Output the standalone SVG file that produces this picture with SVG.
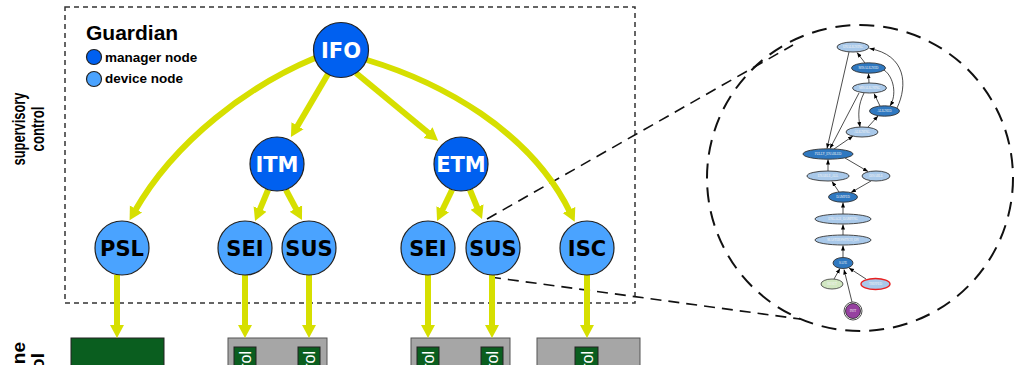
<svg xmlns="http://www.w3.org/2000/svg" width="1016" height="365" viewBox="0 0 1016 365">
<defs>
<marker id="ya" markerUnits="userSpaceOnUse" markerWidth="16" markerHeight="16" refX="3" refY="8" orient="auto" viewBox="0 0 16 16">
<path d="M0,1 L13,8 L0,15 z" fill="#d6df00"/>
</marker>
<marker id="sa" markerUnits="userSpaceOnUse" markerWidth="6" markerHeight="6" refX="5" refY="3" orient="auto" viewBox="0 0 6 6">
<path d="M0,1 L5,3 L0,5 z" fill="#000"/>
</marker>
<style>
.ya{fill:none;stroke:#d6df00;stroke-width:6;marker-end:url(#ya)}
.mgr{fill:#0060f0;stroke:#222;stroke-width:1.2}
.dev{fill:#4aa3ff;stroke:#222;stroke-width:1.2}
.nt{font-family:"DejaVu Sans",sans-serif;font-weight:bold;font-size:21px;text-anchor:middle}
.lg{font-family:"Liberation Sans",Arial,sans-serif;font-weight:bold}
.dash{fill:none;stroke:#333;stroke-width:1.5;stroke-dasharray:5 4}
.zl{fill:none;stroke:#111;stroke-width:1.6;stroke-dasharray:11 7}
.e{fill:none;stroke:#000;stroke-width:0.7;marker-end:url(#sa)}
.lt{fill:#a9c9ea;stroke:#333;stroke-width:0.9}
.dk{fill:#2f78c0;stroke:#333;stroke-width:0.9}
.st{font-family:"Liberation Serif",serif;font-size:3.2px;fill:#f4f4f4;text-anchor:middle}
.grn{fill:#0a5e1f;stroke:#222;stroke-width:1}
.gry{fill:#a6a6a6;stroke:#555;stroke-width:1}
.side{font-family:"Liberation Sans",Arial,sans-serif;font-weight:bold;font-size:19px;text-anchor:middle}
.bt{font-family:"Liberation Sans",Arial,sans-serif;font-size:16px;fill:#fff;text-anchor:end}
</style>
</defs>
<rect width="1016" height="365" fill="#fff"/>

<!-- side labels -->
<g id="label-supervisory">
<text class="side" transform="translate(25,129) rotate(-90)" textLength="73" lengthAdjust="spacingAndGlyphs">supervisory</text>
<text class="side" transform="translate(44,129) rotate(-90)" textLength="45" lengthAdjust="spacingAndGlyphs">control</text>
</g>
<g id="label-machine">
<text class="side" style="text-anchor:end" transform="translate(25,342) rotate(-90)">machine</text>
<text class="side" style="text-anchor:end" transform="translate(44,353) rotate(-90)">control</text>
</g>

<!-- supervisory boundary -->
<rect x="65" y="7" width="570" height="296" class="dash"/>

<!-- legend -->
<g id="legend">
<text class="lg" x="86" y="40" font-size="21">Guardian</text>
<circle cx="94" cy="57" r="7.5" class="mgr"/>
<text class="lg" x="105" y="62" font-size="13.5">manager node</text>
<circle cx="94" cy="79" r="7.5" class="dev"/>
<text class="lg" x="105" y="83" font-size="13.5">device node</text>
</g>

<!-- bottom machine boxes -->
<g id="box-psl"><rect x="71" y="338" width="93" height="40" class="grn"/></g>
<g id="box-1">
<rect x="228" y="338" width="99" height="40" class="gry"/>
<rect x="234" y="347" width="22" height="30" class="grn"/>
<rect x="298" y="347" width="22" height="30" class="grn"/>
<text class="bt" transform="translate(251,351) rotate(-90)">control</text>
<text class="bt" transform="translate(315,351) rotate(-90)">control</text>
</g>
<g id="box-2">
<rect x="411" y="338" width="99" height="40" class="gry"/>
<rect x="417" y="347" width="22" height="30" class="grn"/>
<rect x="481" y="347" width="22" height="30" class="grn"/>
<text class="bt" transform="translate(434,351) rotate(-90)">control</text>
<text class="bt" transform="translate(498,351) rotate(-90)">control</text>
</g>
<g id="box-3">
<rect x="537" y="338" width="103" height="40" class="gry"/>
<rect x="575" y="347" width="23" height="30" class="grn"/>
<text class="bt" transform="translate(593,351) rotate(-90)">control</text>
</g>

<!-- zoom lines and circle -->
<g id="zoom">
<path d="M487,219 L793,45" class="zl"/>
<path d="M490,277 L800,319" class="zl"/>
<circle cx="860" cy="178" r="153" fill="none" stroke="#111" stroke-width="2" stroke-dasharray="15 9"/>
</g>

<!-- connectors -->
<g id="connectors">
<path class="ya" d="M315,58 C250,85 175,140 134.5,211.6"/>
<path class="ya" d="M367,60 C440,82 530,130 570.3,212.7"/>
<path class="ya" d="M328,74 L296,128.4"/>
<path class="ya" d="M356,73 L430.4,134.5"/>
<path class="ya" d="M268,190 L258.9,211.8"/>
<path class="ya" d="M286,190 L297.3,211.2"/>
<path class="ya" d="M452,190 L441.4,212"/>
<path class="ya" d="M470,190 L478.2,209.8"/>
<path class="ya" d="M117,275 L117,328"/>
<path class="ya" d="M245,275 L245,328"/>
<path class="ya" d="M309,275 L309,328"/>
<path class="ya" d="M428,275 L428,328"/>
<path class="ya" d="M492,275 L492,328"/>
<path class="ya" d="M587,275 L587,328"/>
</g>

<!-- guardian nodes -->
<g id="IFO"><circle cx="341" cy="50" r="27.5" class="mgr"/><text class="nt" x="341" y="58" fill="#fff">IFO</text></g>
<g id="ITM"><circle cx="277" cy="164" r="27" class="mgr"/><text class="nt" x="277" y="172" fill="#fff">ITM</text></g>
<g id="ETM"><circle cx="461" cy="164" r="27" class="mgr"/><text class="nt" x="461" y="172" fill="#fff">ETM</text></g>
<g id="PSL"><circle cx="122" cy="248" r="27" class="dev"/><text class="nt" x="122" y="256">PSL</text></g>
<g id="SEI-1"><circle cx="245" cy="248" r="27" class="dev"/><text class="nt" x="245" y="256">SEI</text></g>
<g id="SUS-1"><circle cx="309" cy="248" r="27" class="dev"/><text class="nt" x="309" y="256">SUS</text></g>
<g id="SEI-2"><circle cx="428" cy="248" r="27" class="dev"/><text class="nt" x="428" y="256">SEI</text></g>
<g id="SUS-2"><circle cx="493" cy="248" r="27" class="dev"/><text class="nt" x="493" y="256">SUS</text></g>
<g id="ISC"><circle cx="587" cy="248" r="27" class="dev"/><text class="nt" x="587" y="256">ISC</text></g>

<!-- SUS state graph -->
<g id="state-edges">
<path class="e" d="M865,63 L857,52.5"/>
<path class="e" d="M869,83 L868.5,73.5"/>
<path class="e" d="M880,106 L874,93.5"/>
<path class="e" d="M868,127 L878,116"/>
<path class="e" d="M884,70 C894,77 897,95 890,106"/>
<path class="e" d="M897,108 C908,85 906,55 869.5,48.5"/>
<path class="e" d="M864,93 C858,105 858,115 860,127"/>
<path class="e" d="M849,52 L827,148.5"/>
<path class="e" d="M859,93 L830,148.5"/>
<path class="e" d="M834,149 L853,136"/>
<path class="e" d="M845,158 L868,171.5"/>
<path class="e" d="M871,181 L851,192.5"/>
<path class="e" d="M839,192 L832,181.5"/>
<path class="e" d="M828,171 L828,159.5"/>
<path class="e" d="M843,214 L843,202.5"/>
<path class="e" d="M843,235 L843,224.5"/>
<path class="e" d="M843,257 L843,245.5"/>
<path class="e" d="M834,279 L840,268.5"/>
<path class="e" d="M866,279 L849,268"/>
<path class="e" d="M852,302 L844,269.5"/>
</g>
<g id="UNALIGNING"><ellipse cx="853" cy="47" rx="16" ry="5" class="lt"/><text class="st" x="853" y="48.2">UNALIGNING</text></g>
<g id="MISALIGNED"><ellipse cx="868.5" cy="68" rx="17" ry="5.2" class="dk"/><text class="st" x="868.5" y="69.2">MISALIGNED</text></g>
<g id="MISALIGNING"><ellipse cx="869.5" cy="88" rx="17" ry="5" class="lt"/><text class="st" x="869.5" y="89.2">MISALIGNING</text></g>
<g id="ALIGNED"><ellipse cx="884.5" cy="111" rx="15" ry="5.2" class="dk"/><text class="st" x="884.5" y="112.2">ALIGNED</text></g>
<g id="ALIGNING"><ellipse cx="862" cy="132" rx="16" ry="5" class="lt"/><text class="st" x="862" y="133.2">ALIGNING</text></g>
<g id="FULLY_ENABLED"><ellipse cx="828" cy="154" rx="25" ry="5.2" class="dk"/><text class="st" x="828" y="155.2">FULLY_ENABLED</text></g>
<g id="ENABLE_ALL"><ellipse cx="828" cy="176" rx="21" ry="5" class="lt"/><text class="st" x="828" y="177.2">ENABLE_ALL</text></g>
<g id="DISABLE"><ellipse cx="876" cy="176" rx="14" ry="5" class="lt"/><text class="st" x="876" y="177.2">DISABLE</text></g>
<g id="DAMPED"><ellipse cx="843" cy="197" rx="14.5" ry="5.2" class="dk"/><text class="st" x="843" y="198.2">DAMPED</text></g>
<g id="ENGAGE_DAMPING"><ellipse cx="843" cy="219" rx="28" ry="5" class="lt"/><text class="st" x="843" y="220.2">ENGAGE_DAMPING</text></g>
<g id="MASTERSWITCH_ON"><ellipse cx="843" cy="240" rx="28" ry="5" class="lt"/><text class="st" x="843" y="241.2">MASTERSWITCH_ON</text></g>
<g id="SAFE"><ellipse cx="843" cy="263" rx="10" ry="5.5" class="dk"/><text class="st" x="843" y="264.2">SAFE</text></g>
<g id="RESET"><ellipse cx="832" cy="284" rx="11" ry="5" fill="#d2e8c2" stroke="#333" stroke-width="0.8"/><text class="st" x="832" y="285.2" fill="#fff">RESET</text></g>
<g id="TRIPPED"><ellipse cx="875.5" cy="284" rx="14.5" ry="5.5" fill="#a9c9ea" stroke="#e82020" stroke-width="1.4"/><text class="st" x="875.5" y="285.2">TRIPPED</text></g>
<g id="INIT"><circle cx="853" cy="311" r="9" fill="#fff" stroke="#222" stroke-width="0.8"/><circle cx="853" cy="311" r="7.5" fill="#9640a0" stroke="#222" stroke-width="0.8"/><text class="st" x="853" y="312.2">INIT</text></g>
</svg>
